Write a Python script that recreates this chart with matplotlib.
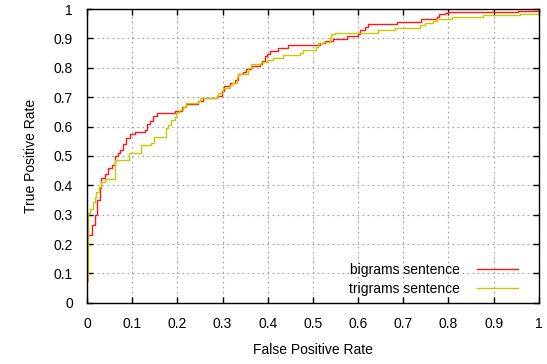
import numpy as np
import matplotlib
matplotlib.use("Agg")
import matplotlib.pyplot as plt

plt.rcParams['font.family'] = ['Liberation Sans', 'DejaVu Sans']
plt.rcParams['font.size'] = 10

# ROC steps (fpr where the jump happens, tpr after it)
red_fpr = [0, 0.012, 0.018, 0.023, 0.029, 0.032, 0.040, 0.047, 0.055, 0.062,
           0.068, 0.073, 0.080, 0.086, 0.095, 0.106, 0.128, 0.132, 0.139, 0.147,
           0.154, 0.195, 0.210, 0.220, 0.246, 0.257, 0.287, 0.298, 0.303, 0.316,
           0.327, 0.335, 0.346, 0.353, 0.364, 0.383, 0.387, 0.394, 0.398, 0.405,
           0.423, 0.445, 0.515, 0.527, 0.545, 0.575, 0.600, 0.604, 0.615, 0.622,
           0.687, 0.740, 0.774, 0.780, 0.792, 0.800, 0.954, 1.0]
red_tpr = [0.23, 0.265, 0.30, 0.35, 0.39, 0.425, 0.44, 0.46, 0.47, 0.50,
           0.51, 0.52, 0.54, 0.56, 0.575, 0.58, 0.59, 0.61, 0.62, 0.635,
           0.646, 0.653, 0.667, 0.677, 0.687, 0.697, 0.704, 0.72, 0.738, 0.75,
           0.76, 0.78, 0.786, 0.795, 0.806, 0.813, 0.823, 0.84, 0.847, 0.857,
           0.867, 0.877, 0.885, 0.891, 0.899, 0.908, 0.915, 0.93, 0.939, 0.95,
           0.957, 0.965, 0.973, 0.982, 0.987, 0.99, 0.993, 0.995]

yel_fpr = [0, 0.003, 0.007, 0.013, 0.018, 0.021, 0.027, 0.032, 0.040, 0.062,
           0.092, 0.120, 0.142, 0.148, 0.175, 0.180, 0.187, 0.195, 0.198, 0.204,
           0.213, 0.219, 0.246, 0.251, 0.287, 0.290, 0.302, 0.316, 0.320, 0.331,
           0.335, 0.357, 0.364, 0.386, 0.398, 0.412, 0.434, 0.471, 0.479, 0.507,
           0.512, 0.523, 0.538, 0.541, 0.549, 0.644, 0.681, 0.738, 0.748, 0.766,
           0.774, 0.807, 0.877, 0.958, 1.0]
yel_tpr = [0.075, 0.305, 0.32, 0.345, 0.36, 0.378, 0.395, 0.41, 0.42, 0.486,
           0.51, 0.537, 0.544, 0.565, 0.595, 0.605, 0.622, 0.633, 0.646, 0.656,
           0.667, 0.68, 0.687, 0.697, 0.704, 0.715, 0.73, 0.74, 0.748, 0.77,
           0.78, 0.80, 0.813, 0.82, 0.827, 0.833, 0.844, 0.85, 0.861, 0.871,
           0.884, 0.888, 0.9, 0.914, 0.917, 0.928, 0.937, 0.946, 0.953, 0.96,
           0.966, 0.973, 0.98, 0.985, 0.987]

ticks = np.arange(0, 1.01, 0.1)
tick_labels = ['0', '0.1', '0.2', '0.3', '0.4', '0.5', '0.6', '0.7', '0.8', '0.9', '1']

fig = plt.figure(figsize=(5.47, 3.64), dpi=100)
ax = fig.add_axes([0.159, 0.168, 0.826, 0.807])

ax.plot(red_fpr, red_tpr, drawstyle='steps-post', color='#ff1a1a', lw=1,
        label='bigrams sentence')
ax.plot(yel_fpr, yel_tpr, drawstyle='steps-post', color='#c8c800', lw=1,
        label='trigrams sentence')

ax.set_xlim(0, 1)
ax.set_ylim(0, 1)
ax.set_xticks(ticks)
ax.set_xticklabels(tick_labels)
ax.set_yticks(ticks)
ax.set_yticklabels(tick_labels)
ax.tick_params(direction='in', top=True, right=True, length=4, width=1, pad=10)
ax.grid(True, color='#a0a0a0', linestyle=(0, (1.5, 3)), lw=0.8)
for s in ax.spines.values():
    s.set_linewidth(1)

ax.set_xlabel('False Positive Rate', labelpad=9)
ax.set_ylabel('True Positive Rate', labelpad=11)

leg = ax.legend(loc='lower right', frameon=False, markerfirst=False,
                handlelength=3.0, handletextpad=1.2, borderaxespad=0.1,
                labelspacing=0.35, bbox_to_anchor=(0.97, 0.0))
for t in leg.get_texts():
    t.set_ha('right')

fig.savefig('out.png', dpi=100)
